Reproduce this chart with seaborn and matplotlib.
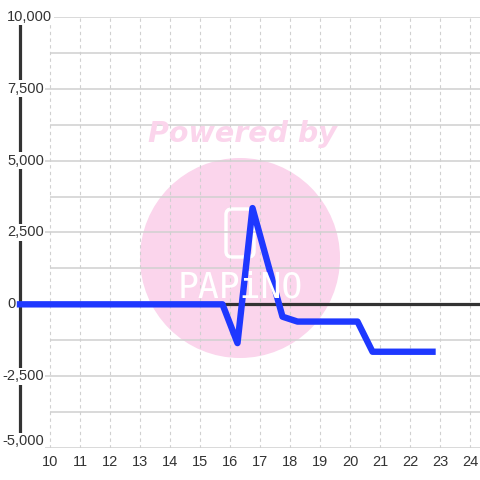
import matplotlib
matplotlib.use('Agg')
import matplotlib.pyplot as plt
import matplotlib.patches as mpatches
import numpy as np
import seaborn as sns

# data
hours = [9.0, 15.75, 16.25, 16.75, 17.75, 18.25, 20.25, 20.75, 22.75]
values = [0, 0, -1350, 3350, -430, -600, -600, -1650, -1650]
x_ticks = list(range(10, 25))
y_major = [10000, 7500, 5000, 2500, 0, -2500, -5000]
y_minor = [8750, 6250, 3750, 1250, -1250, -3750]

sns.set_theme(style='white')
plt.rcParams['font.family'] = ['Liberation Sans', 'DejaVu Sans']

fig = plt.figure(figsize=(4.8, 4.8), dpi=100)
ax = fig.add_axes([0, 32 / 480, 1, 431 / 480])
ax.set_facecolor('none')
x0 = 10 - 50 / 30
ax.set_xlim(x0, 10 + 430 / 30)
ax.set_ylim(-5000, 10000)
for s in ax.spines.values():
    s.set_visible(False)

grid_c = '#d0d0d0'
# horizontal grid
ax.hlines(y_major, x0 + 44 / 30, ax.get_xlim()[1], color=grid_c, lw=1.1, zorder=1)
ax.hlines(y_minor, 10, ax.get_xlim()[1], color=grid_c, lw=1.1, zorder=1)
# vertical dashed grid
ax.vlines(x_ticks, -5000, 10000, color=grid_c, lw=0.8, linestyles=(0, (3, 3)), zorder=1)

# watermark
circ = mpatches.Circle((240 / 480, 1 - 258 / 480), 100 / 480, transform=fig.transFigure,
                       color='#fbd5ec', zorder=0.5, lw=0)
ax.add_patch(circ)
fig.text(242 / 480, 1 - 134 / 480, 'Powered by', color='#fbd5ec', fontsize=20.5,
         fontweight='bold', fontstyle='italic', family='DejaVu Sans',
         ha='center', va='center', zorder=0.6)
phone = mpatches.FancyBboxPatch((226 / 480, 1 - 257 / 480), 28 / 480, 48 / 480,
                                boxstyle='round,pad=0,rounding_size=0.012',
                                transform=fig.transFigure, fill=False, ec='white', lw=2.5, zorder=0.7)
ax.add_patch(phone)
fig.text(240 / 480, 1 - 287 / 480, 'PAPiNO', color='white', fontsize=25,
         family='DejaVu Sans Mono', ha='center', va='center', zorder=0.7)

# axis lines
ax.plot([9.0, 9.0], [9750, -4620], color='#333333', lw=2.3, zorder=2, solid_capstyle='butt')
ax.plot([8.93, ax.get_xlim()[1]], [0, 0], color='#333333', lw=2.3, zorder=2, solid_capstyle='butt')

# y labels
for v in y_major:
    px = 2 if v < 0 else 7
    ax.text(x0 + px / 30, v, f'{v:,}', ha='left', va='bottom' if v == -5000 else 'center',
            fontsize=10.5, color='#333333', zorder=3,
            bbox=dict(boxstyle='square,pad=0.1', fc='white', ec='none'))

# series
sns.lineplot(x=hours, y=values, ax=ax, color='#1e38ff', lw=4.6, zorder=4,
             solid_capstyle='projecting', solid_joinstyle='round')

ax.set_xticks(x_ticks)
ax.set_xticklabels([str(t) for t in x_ticks], fontsize=10.5, color='#333333')
ax.tick_params(axis='x', length=0, pad=5)
ax.set_yticks([])
ax.set_xlabel('')
ax.set_ylabel('')

fig.savefig('out.png', dpi=100, facecolor='white')
